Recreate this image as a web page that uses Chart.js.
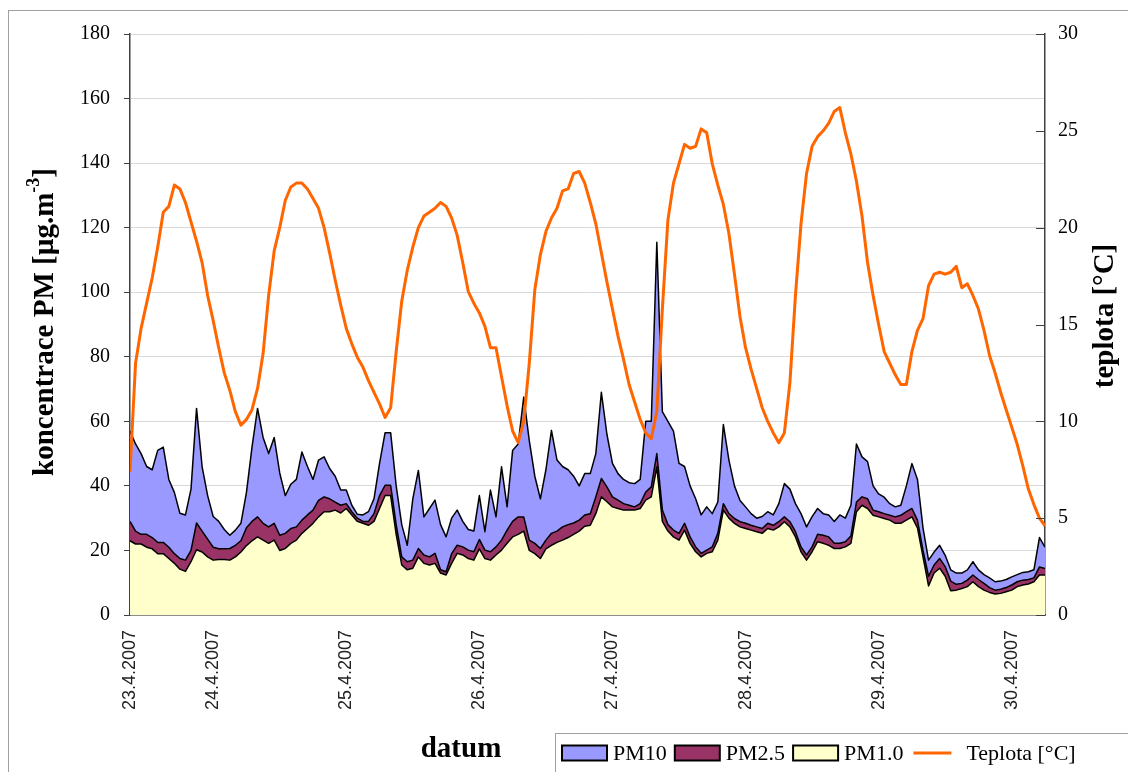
<!DOCTYPE html>
<html>
<head>
<meta charset="utf-8">
<script src="https://cdn.jsdelivr.net/npm/chart.js@4.4.1/dist/chart.umd.min.js"></script>
<style>
  html, body { margin: 0; padding: 0; background: #fff; }
  #wrap { width: 1128px; height: 772px; }
</style>
</head>
<body>
<div id="wrap"><canvas id="pmChart" width="1128" height="772"></canvas></div>
<script>
// hodinove hodnoty, 23.4.2007 9:00 az 30.4.2007 6:00 (hodina pocitana od 23.4. 0:00)
const startHour = 9;
const dayTicks = [9, 24, 48, 72, 96, 120, 144, 168];
const dayLabels = ['23.4.2007', '24.4.2007', '25.4.2007', '26.4.2007', '27.4.2007', '28.4.2007', '29.4.2007', '30.4.2007'];

const pm10 = [
    57, 53, 50, 46, 45, 51, 52, 42, 38, 31.5,
    31, 39, 64, 46, 37, 30.5, 29, 26.5, 24.7, 26.3,
    28.4, 38, 52, 64, 55, 50, 55, 44, 37, 40.5,
    42, 50.5, 46, 42, 48, 49, 45.4, 43, 38.7, 38.7,
    34, 31.2, 31, 32, 36, 47, 56.5, 56.5, 40, 28,
    21.6, 36, 44.8, 30.4, 33, 35.6, 28, 24.2, 30, 32.5,
    29, 26.5, 26, 37, 25.8, 38.7, 30.4, 45.9, 33.5, 51,
    53, 67.5, 54, 43, 36, 45, 57.2, 48, 46, 45,
    43, 40, 43.8, 43.8, 50, 69, 56, 47, 43.8, 42,
    41, 40.7, 42, 60, 60, 115.5, 63, 60, 57, 47,
    46, 40, 36, 31, 33.5, 31.4, 35, 59, 48, 40,
    35.5, 33.5, 31.4, 30, 30.5, 32, 31, 34.5, 40.7, 39,
    34.5, 31.4, 27.3, 30.5, 33, 31.4, 31, 29, 31, 30,
    34, 53, 49, 47.5, 40, 37.5, 36.5, 34.5, 33.5, 34,
    40, 46.9, 42, 27, 17, 19.5, 21.6, 18.5, 14, 13,
    13, 14, 16.5, 14, 12.5, 11.5, 10.3, 10.5, 11, 11.8,
    12.5, 13.2, 13.4, 14, 24, 21
];

const pm25 = [
    29, 26, 25, 25, 24, 22.5, 22.5, 21, 19, 17.5,
    17, 20, 28.5, 26, 23.5, 21, 20.5, 20.5, 20.6, 21.6,
    23, 27, 29, 30.4, 28.4, 27.3, 28.4, 24.7, 25.3, 26.8,
    27.3, 29.4, 31, 32.5, 35.5, 36.6, 36, 35, 34, 34.5,
    32, 30, 29, 29, 31.4, 37, 40.2, 40.2, 28, 18,
    16.5, 17, 20.6, 18.6, 18, 19.1, 14, 13.4, 19, 21.6,
    21.1, 20.1, 19.6, 23.4, 20.1, 19.6, 21.1, 23.2, 26.3, 29,
    30.4, 30.4, 23.2, 22.2, 20.6, 23.2, 25.3, 26, 27.3, 28,
    28.5, 29.4, 31, 31.4, 36.6, 42.3, 39.7, 36.6, 35.6, 34.5,
    34, 33.5, 34.5, 38.1, 39.7, 50, 32.5, 28, 26.3, 25.3,
    28.4, 24.2, 21.1, 19.1, 20.1, 21.1, 25.3, 34.5, 31.4, 29.9,
    28.9, 28.4, 27.8, 27.3, 26.8, 28.4, 27.8, 28.9, 30.4, 28.9,
    25.8, 21.1, 18.6, 21.1, 25, 24.7, 24.2, 22.2, 22.2, 22.7,
    24.5, 35, 36.6, 36, 32.5, 32, 31.4, 30.9, 30.4, 30.9,
    32, 33, 29.4, 20, 12, 15.5, 17.5, 15, 10.5, 9.5,
    9.8, 10.8, 12.4, 11, 9.8, 8.5, 7.7, 8, 8.5, 9.3,
    10.3, 10.8, 11, 11.5, 14.9, 14.4
];

const pm1 = [
    23, 22, 22, 21, 20.5, 19, 19, 17.5, 16, 14.2,
    13.5, 16.5, 20.2, 19.5, 18, 17, 17.2, 17.2, 17, 18,
    19.5, 21.5, 23, 24.2, 23.2, 22.2, 23.2, 20, 20.6, 22.2,
    23.2, 25.3, 26.8, 28.4, 30.4, 32, 32, 32.5, 31.6, 33,
    31, 29, 28.4, 27.8, 29, 33, 37, 37, 25, 15.5,
    14, 14.5, 18, 16, 15.5, 16, 13, 12.4, 16, 19.1,
    18.6, 17.5, 17, 20.5, 17.5, 17, 18.6, 20.1, 22.2, 24.2,
    25, 26, 20, 19, 17.5, 20.5, 21.6, 22.5, 23.2, 24,
    25, 26, 27.5, 27.8, 31.4, 36.6, 35.1, 33.5, 33, 32.5,
    32.5, 32.5, 33, 35.6, 36.6, 45.9, 29, 26, 24.2, 23.2,
    26.3, 22.2, 19.6, 18, 19.1, 19.6, 23.2, 32.5, 30, 28.4,
    27.3, 26.8, 26.3, 25.8, 25.3, 26.8, 26.3, 27.3, 28.9, 27.3,
    24.2, 19.6, 17, 19.6, 22.7, 22.2, 21.6, 20.6, 20.6, 21.1,
    22.2, 32, 34, 33, 30.9, 30.4, 29.9, 29.4, 28.4, 28.4,
    29.4, 30.4, 27, 18, 9, 13, 14.5, 12, 7.5, 7.7,
    8.2, 8.8, 10.3, 8.8, 7.7, 7, 6.5, 6.7, 7.2, 7.7,
    8.8, 9.3, 9.6, 10.3, 12.4, 12.4
];

const teplota = [
    7.4, 13.0, 14.8, 16.1, 17.4, 19.0, 20.8, 21.1, 22.2, 22.0,
    21.3, 20.3, 19.3, 18.2, 16.5, 15.2, 13.8, 12.5, 11.6, 10.5,
    9.8, 10.1, 10.6, 11.7, 13.5, 16.5, 18.8, 20.0, 21.4, 22.1,
    22.3, 22.3, 22.0, 21.5, 21.0, 20.0, 18.7, 17.3, 16.0, 14.8,
    14.0, 13.3, 12.8, 12.1, 11.5, 10.9, 10.2, 10.7, 13.6, 16.2,
    17.8, 19.0, 20.0, 20.6, 20.8, 21.0, 21.3, 21.1, 20.5, 19.6,
    18.2, 16.7, 16.1, 15.6, 14.9, 13.8, 13.8, 12.3, 10.8, 9.5,
    8.9, 10.0, 13.0, 16.8, 18.6, 19.8, 20.5, 21.0, 21.9, 22.0,
    22.8, 22.9, 22.3, 21.3, 20.2, 18.7, 17.2, 15.8, 14.4, 13.2,
    11.9, 11.0, 10.1, 9.4, 9.1, 10.5, 15.8, 20.4, 22.3, 23.3,
    24.3, 24.1, 24.2, 25.1, 24.9, 23.3, 22.2, 21.2, 19.7, 17.6,
    15.4, 13.8, 12.7, 11.7, 10.7, 10.0, 9.4, 8.9, 9.4, 12.0,
    16.5, 20.2, 22.8, 24.2, 24.7, 25.0, 25.4, 26.0, 26.2, 24.9,
    23.8, 22.4, 20.6, 18.2, 16.5, 15.0, 13.6, 13.0, 12.4, 11.9,
    11.9, 13.6, 14.7, 15.3, 17.0, 17.6, 17.7, 17.6, 17.7, 18.0,
    16.9, 17.1, 16.5, 15.8, 14.7, 13.4, 12.5, 11.5, 10.6, 9.7,
    8.8, 7.7, 6.5, 5.7, 5.0, 4.6
];

const hours = pm10.map((v, i) => startHour + i);

const serif = 'Liberation Serif';
const sans = 'Liberation Sans';

// ramecek, popisky os a legenda jako v Excelu
const excelDecor = {
    id: 'excelDecor',
    beforeDraw(chart) {
        const ctx = chart.ctx;
        ctx.save();
        ctx.fillStyle = '#fff';
        ctx.fillRect(0, 0, chart.width, chart.height);
        ctx.strokeStyle = '#a0a0a0';
        ctx.lineWidth = 1;
        ctx.strokeRect(8.5, 10.5, chart.width + 10, chart.height + 10);
        ctx.restore();
    },
    afterDraw(chart) {
        const ctx = chart.ctx;
        ctx.save();
        ctx.fillStyle = '#000';
        ctx.textBaseline = 'middle';

        // levy popisek s hornim indexem
        const big = 'bold 29px "' + serif + '"';
        const small = 'bold 18px "' + serif + '"';
        const p1 = 'koncentrace PM [µg.m', p2 = '-3', p3 = ']';
        ctx.font = big;
        const w1 = ctx.measureText(p1).width, w3 = ctx.measureText(p3).width;
        ctx.font = small;
        const w2 = ctx.measureText(p2).width;
        ctx.translate(46, 322);
        ctx.rotate(-Math.PI / 2);
        let x = -(w1 + w2 + w3) / 2;
        ctx.textAlign = 'left';
        ctx.font = big;
        ctx.fillText(p1, x, 0);
        x += w1;
        ctx.font = small;
        ctx.fillText(p2, x, -12);
        x += w2;
        ctx.font = big;
        ctx.fillText(p3, x, 0);
        ctx.setTransform(1, 0, 0, 1, 0, 0);

        // pravy popisek
        ctx.translate(1106, 316);
        ctx.rotate(-Math.PI / 2);
        ctx.textAlign = 'center';
        ctx.font = big;
        ctx.fillText('teplota [°C]', 0, 0);
        ctx.setTransform(1, 0, 0, 1, 0, 0);

        ctx.fillText('datum', 461, 750);

        // legenda
        ctx.fillStyle = '#fff';
        ctx.fillRect(555.5, 733.5, 600, 50);
        ctx.strokeStyle = '#a0a0a0';
        ctx.lineWidth = 1;
        ctx.strokeRect(555.5, 733.5, 600, 50);

        const order = chart.data.datasets.slice().reverse();
        ctx.font = '22px "' + serif + '"';
        ctx.textAlign = 'left';
        let lx = 562;
        const ly = 753;
        order.forEach(ds => {
            if (ds.fill) {
                ctx.fillStyle = ds.backgroundColor;
                ctx.fillRect(lx, ly - 7.5, 45, 15);
                ctx.strokeStyle = '#000';
                ctx.lineWidth = 2;
                ctx.strokeRect(lx, ly - 7.5, 45, 15);
                lx += 51;
            } else {
                lx += 2;
                ctx.strokeStyle = ds.borderColor;
                ctx.lineWidth = 3;
                ctx.beginPath();
                ctx.moveTo(lx, ly);
                ctx.lineTo(lx + 38, ly);
                ctx.stroke();
                lx += 53;
            }
            ctx.fillStyle = '#000';
            ctx.fillText(ds.label, lx, ly + 1);
            lx += ctx.measureText(ds.label).width + 8;
        });
        ctx.restore();
    },
    // vnitrni znacky na prave ose
    afterDatasetsDraw(chart) {
        const ctx = chart.ctx;
        const axis = chart.scales.y1;
        ctx.save();
        ctx.strokeStyle = '#404040';
        ctx.lineWidth = 1;
        axis.ticks.forEach(t => {
            const py = Math.round(axis.getPixelForValue(t.value)) + 0.5;
            ctx.beginPath();
            ctx.moveTo(axis.left - 9, py);
            ctx.lineTo(axis.left, py);
            ctx.stroke();
        });
        ctx.restore();
    }
};

const ctx = document.getElementById('pmChart').getContext('2d');
new Chart(ctx, {
    type: 'line',
    data: {
        labels: hours,
        datasets: [{
            label: 'Teplota [°C]',
            data: teplota,
            yAxisID: 'y1',
            borderColor: '#ff6600',
            borderWidth: 3,
            fill: false
        }, {
            label: 'PM1.0',
            data: pm1,
            yAxisID: 'y',
            borderColor: '#000',
            borderWidth: 1.5,
            backgroundColor: '#ffffcc',
            fill: 'origin'
        }, {
            label: 'PM2.5',
            data: pm25,
            yAxisID: 'y',
            borderColor: '#000',
            borderWidth: 1.5,
            backgroundColor: '#993366',
            fill: 'origin'
        }, {
            label: 'PM10',
            data: pm10,
            yAxisID: 'y',
            borderColor: '#000',
            borderWidth: 1.5,
            backgroundColor: '#9999ff',
            fill: 'origin'
        }]
    },
    options: {
        responsive: false,
        animation: false,
        devicePixelRatio: 1,
        layout: { padding: { top: 34, left: 0, right: 0, bottom: 0 } },
        elements: {
            point: { radius: 0 },
            line: { tension: 0, borderJoinStyle: 'round' }
        },
        plugins: {
            legend: { display: false },
            tooltip: { enabled: false }
        },
        scales: {
            x: {
                type: 'linear',
                min: 9,
                max: 174,
                afterBuildTicks: axis => {
                    axis.ticks = dayTicks.map(v => ({ value: v }));
                },
                afterFit: axis => { axis.height = 157; },
                grid: { display: false },
                border: { display: true, color: '#404040', width: 1.5 },
                ticks: {
                    autoSkip: false,
                    maxRotation: 90,
                    minRotation: 90,
                    padding: 7,
                    color: '#222',
                    font: { family: sans, size: 18 },
                    callback: value => dayLabels[dayTicks.indexOf(value)]
                }
            },
            y: {
                position: 'left',
                min: 0,
                max: 180,
                afterFit: axis => { axis.width = 130; },
                grid: { color: '#d9d9d9', tickColor: '#404040', tickLength: 6, lineWidth: 1 },
                border: { color: '#404040', width: 1.5 },
                ticks: {
                    stepSize: 20,
                    padding: 14,
                    color: '#000',
                    font: { family: serif, size: 20 }
                }
            },
            y1: {
                position: 'right',
                min: 0,
                max: 30,
                afterFit: axis => { axis.width = 83; },
                grid: { drawOnChartArea: false, drawTicks: false },
                border: { color: '#404040', width: 1.5 },
                ticks: {
                    stepSize: 5,
                    padding: 13,
                    color: '#000',
                    font: { family: serif, size: 20 }
                }
            }
        }
    },
    plugins: [excelDecor]
});
</script>
</body>
</html>
